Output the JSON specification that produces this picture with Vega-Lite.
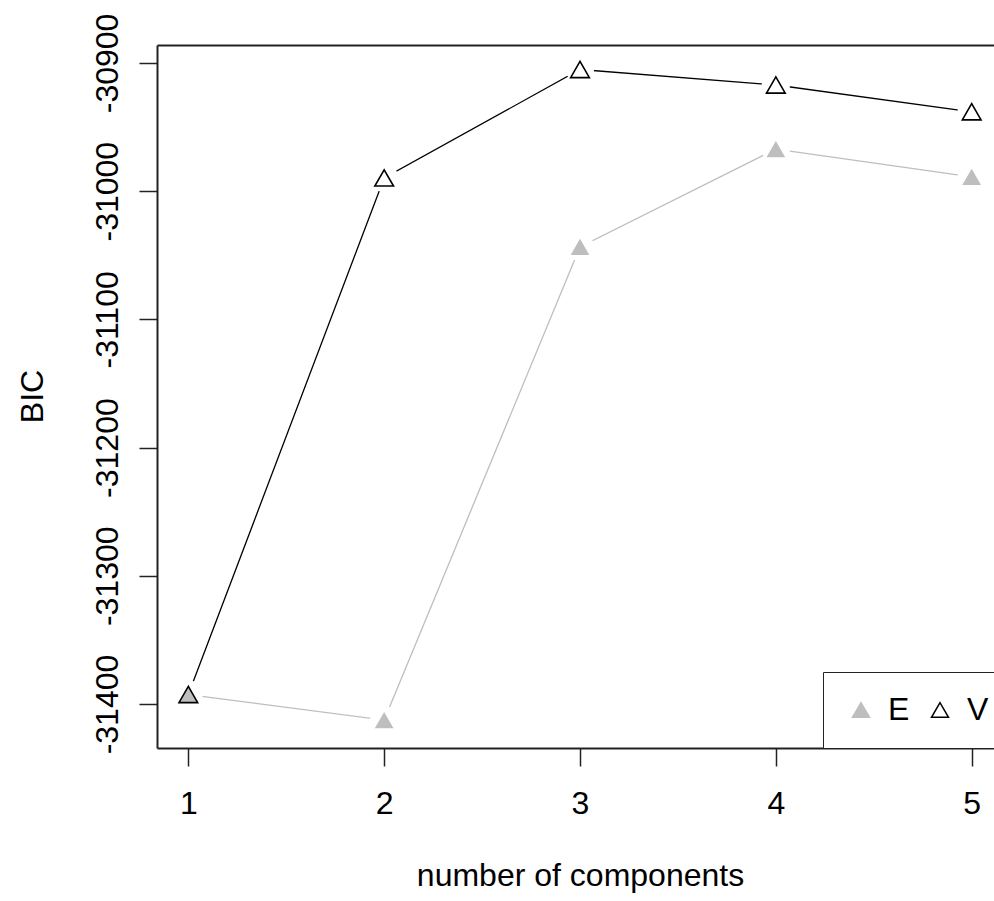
{
  "$schema": "https://vega.github.io/schema/vega-lite/v6.json",
  "width": 837,
  "height": 703,
  "autosize": {"type": "none"},
  "padding": {"left": 157, "top": 45, "right": 0, "bottom": 153},
  "background": "white",
  "config": {
    "view": {"stroke": null},
    "font": "Liberation Sans",
    "axis": {
      "grid": false,
      "domainColor": "#222222",
      "domainWidth": 2,
      "tickColor": "#222222",
      "tickWidth": 1.5,
      "tickSize": 18,
      "labelColor": "black",
      "labelFont": "Liberation Sans",
      "labelFontSize": 32,
      "titleColor": "black",
      "titleFont": "Liberation Sans",
      "titleFontSize": 32,
      "titleFontWeight": "normal"
    }
  },
  "data": {
    "values": [
      {"n": 1, "model": "E", "bic": -31392.6},
      {"n": 2, "model": "E", "bic": -31412.5},
      {"n": 3, "model": "E", "bic": -31043.5},
      {"n": 4, "model": "E", "bic": -30967.2},
      {"n": 5, "model": "E", "bic": -30988.8},
      {"n": 1, "model": "V", "bic": -31392.6},
      {"n": 2, "model": "V", "bic": -30989.7},
      {"n": 3, "model": "V", "bic": -30905.1},
      {"n": 4, "model": "V", "bic": -30917.2},
      {"n": 5, "model": "V", "bic": -30938.1}
    ]
  },
  "encoding": {
    "y": {
      "field": "bic",
      "type": "quantitative",
      "scale": {"domain": [-31434.3, -30886.0], "nice": false, "zero": false},
      "axis": {
        "values": [-31400, -31300, -31200, -31100, -31000, -30900],
        "labelExpr": "'-' + format(abs(datum.value), 'd')",
        "labelAngle": -90,
        "labelAlign": "center",
        "labelBaseline": "alphabetic",
        "labelPadding": 22,
        "title": "BIC",
        "titleAngle": -90,
        "titleAlign": "center",
        "titleBaseline": "alphabetic",
        "titleX": -115,
        "titleY": 351
      }
    }
  },
  "layer": [
    {
      "mark": {"type": "line", "strokeWidth": 1.3, "clip": true},
      "encoding": {
        "x": {
          "field": "n",
          "type": "quantitative",
          "scale": {"domain": [0.84, 5.114], "nice": false, "zero": false},
          "axis": {
            "values": [1, 2, 3, 4, 5],
            "format": "d",
            "labelBaseline": "alphabetic",
            "labelPadding": 47,
            "title": "number of components",
            "titleX": 423,
            "titleY": 137,
            "titleAlign": "center",
            "titleBaseline": "alphabetic"
          }
        },
        "color": {
          "field": "model",
          "type": "nominal",
          "scale": {"domain": ["E", "V"], "range": ["#BEBEBE", "#000000"]},
          "legend": {
            "orient": "none",
            "legendX": 666,
            "legendY": 627,
            "direction": "horizontal",
            "title": null,
            "strokeColor": "#222222",
            "fillColor": "white",
            "padding": 22,
            "symbolType": "triangle-up",
            "symbolSize": 289,
            "symbolStrokeWidth": 1.5,
            "symbolFillColor": "#BEBEBE",
            "labelFont": "Liberation Sans",
            "labelFontSize": 32,
            "labelColor": "black",
            "labelOffset": 11,
            "columnPadding": 14,
            "labelBaseline": "middle"
          }
        }
      }
    },
    {
      "mark": {"type": "point", "shape": "circle", "filled": true, "fill": "white", "strokeWidth": 0, "size": 800, "opacity": 1, "clip": true},
      "encoding": {
        "x": {
          "field": "n",
          "type": "quantitative",
          "axis": {"orient": "top", "labels": false, "ticks": false, "title": null, "domain": true}
        }
      }
    },
    {
      "mark": {"type": "point", "shape": "triangle-up", "filled": true, "size": 350, "strokeWidth": 1.6, "opacity": 1},
      "encoding": {
        "x": {"field": "n", "type": "quantitative", "axis": null},
        "fill": {
          "field": "model",
          "type": "nominal",
          "scale": {"domain": ["E", "V"], "range": ["#BEBEBE", "rgba(255,255,255,0)"]},
          "legend": null
        },
        "stroke": {
          "field": "model",
          "type": "nominal",
          "scale": {"domain": ["E", "V"], "range": ["rgba(190,190,190,0)", "#000000"]},
          "legend": null
        }
      }
    }
  ],
  "resolve": {"axis": {"x": "independent"}}
}
